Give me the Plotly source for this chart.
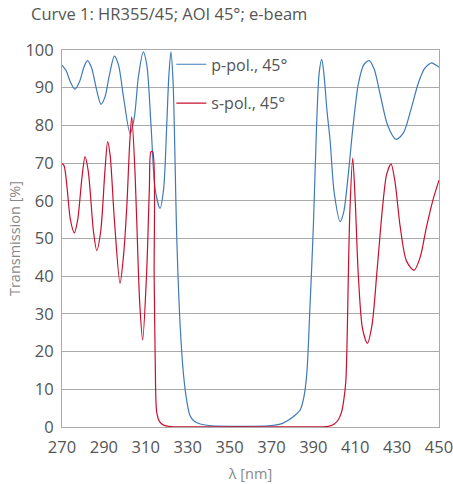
import plotly.graph_objects as go

# p-polarisation, 45°
p_wl = [270, 272, 274, 276.2, 278.5, 280.5, 282.1, 284, 286.5, 288.6, 290.5, 292.5, 295, 297,
        299.5, 302.5, 304.5, 306.5, 308.8, 310.5, 312.5, 314.5, 316.8, 318.5, 320, 321, 322,
        323, 324.8, 326.4, 328, 329.5, 331, 333, 336, 340, 350, 360, 370, 375, 378, 381,
        383.7, 385.5, 386.9, 388.4, 390, 391.6, 392.8, 394, 395, 396.5, 398, 400, 402.8,
        404.5, 406.5, 409, 411.5, 414, 416.6, 419, 422, 425.5, 429.5, 433, 436.5, 440, 443,
        446.5, 448.5, 450]
p_val = [96.0, 94.5, 91.5, 89.6, 91.8, 95.5, 97.2, 95.5, 89.5, 85.6, 87.5, 93, 98.4, 96,
         87, 77.9, 82, 93, 99.5, 96, 80, 63, 58.0, 63, 80, 93, 99.5,
         92, 50, 27, 14, 7.2, 3.2, 1.6, 0.8, 0.4, 0.2, 0.2, 0.4, 0.9, 1.8, 3.0,
         4.5, 8, 14.3, 31.9, 53, 80.6, 94, 97.5, 94, 84, 76, 62, 54.5,
         57, 66, 80, 91, 96, 97.2, 95, 88, 80, 76.3, 78, 84, 91, 95,
         96.6, 96.0, 95.4]

# s-polarisation, 45°
s_wl = [270, 271, 272.5, 274, 275.9, 277.5, 279.5, 281, 282.5, 283.4, 285, 286.6, 288.5,
        290.5, 291.8, 293, 295, 297.7, 299.3, 300.9, 302.3, 303.3, 304.9, 306.5, 307.2,
        308.5, 310.4, 311.7, 312.5, 313.3, 314, 314.5, 315.2, 316.5, 318.5, 322, 330, 360,
        390, 396, 398, 400, 402, 403.5, 404.5, 405.5, 406.2, 406.7, 407.5, 408.8, 410,
        411.5, 413.5, 415.8, 418, 420.5, 423, 425, 427.1, 429, 431.5, 434.5, 438.1, 441,
        444, 447, 450]
s_val = [69.9, 69.3, 63, 55, 51.5, 55, 66, 71.7, 68, 62.9, 52, 46.8, 52,
         68, 75.7, 72, 55, 38.1, 45, 58, 75, 82.3, 67, 40.8, 32,
         23.1, 40.8, 62.9, 73, 73, 40, 18, 4, 1.5, 0.5, 0.1, 0.05, 0.03,
         0.05, 0.1, 0.3, 0.8, 2, 4, 7, 12, 25, 40, 58, 71.3, 60,
         40, 26, 22.2, 27, 42, 58, 67, 69.8, 65, 53, 44, 41.6, 45,
         53, 60, 65.5]

x_ticks = [270, 290, 310, 330, 350, 370, 390, 410, 430, 450]
y_ticks = [0, 10, 20, 30, 40, 50, 60, 70, 80, 90, 100]

BLUE = "#3f7ab8"
RED = "#c8102e"
TXT = "#555555"
FONT = "Open Sans"

fig = go.Figure()
fig.add_trace(go.Scatter(x=p_wl, y=p_val, mode="lines", name="p-pol., 45°",
                         legendgroup="p",
                         line=dict(color=BLUE, width=1.2, shape="spline", smoothing=0.8)))
fig.add_trace(go.Scatter(x=s_wl, y=s_val, mode="lines", name="s-pol., 45°",
                         legendgroup="s",
                         line=dict(color=RED, width=1.2, shape="spline", smoothing=0.8)))

fig.update_layout(
    width=453, height=484,
    margin=dict(l=62, r=14, t=50, b=57, autoexpand=False),
    paper_bgcolor="white", plot_bgcolor="white",
    font=dict(family=FONT, color=TXT, size=15),
    title=dict(text="Curve 1: HR355/45; AOI 45°; e-beam", x=31 / 453, xref="container",
               xanchor="left", y=1 - 14 / 484, yref="container", yanchor="middle",
               automargin=False,
               font=dict(family=FONT, size=16.5, color=TXT)),
    showlegend=True,
    legend=dict(x=0.29, y=1.007, xanchor="left", yanchor="top",
                bgcolor="rgba(0,0,0,0)", font=dict(size=16, color=TXT),
                itemwidth=30, traceorder="grouped", tracegroupgap=15),
)
fig.update_xaxes(range=[270, 450], tickvals=x_ticks, ticktext=[str(v) for v in x_ticks],
                 showgrid=False, zeroline=False, showline=True, linecolor="#aaaaaa",
                 linewidth=1, mirror=True, ticks="", automargin=False,
                 ticklabeloverflow="allow", ticklabelstandoff=5,
                 tickfont=dict(size=16.5, color=TXT),
                 title=dict(text="λ [nm]", font=dict(size=14.5, color="#888888"), standoff=12))
fig.update_yaxes(range=[0, 100], tickvals=y_ticks, showgrid=True, gridcolor="#aaaaaa",
                 gridwidth=1, zeroline=False, showline=True, linecolor="#aaaaaa",
                 linewidth=1, mirror=True, ticks="", automargin=False,
                 ticklabeloverflow="allow", ticklabelstandoff=4,
                 tickfont=dict(size=16.5, color=TXT),
                 title=dict(text="Transmission [%]", font=dict(size=14.5, color="#888888"),
                            standoff=1))

fig.write_html("out.html",
               config={"displayModeBar": False},
               post_script="document.body.style.margin='0px';document.body.style.overflow='hidden';")
